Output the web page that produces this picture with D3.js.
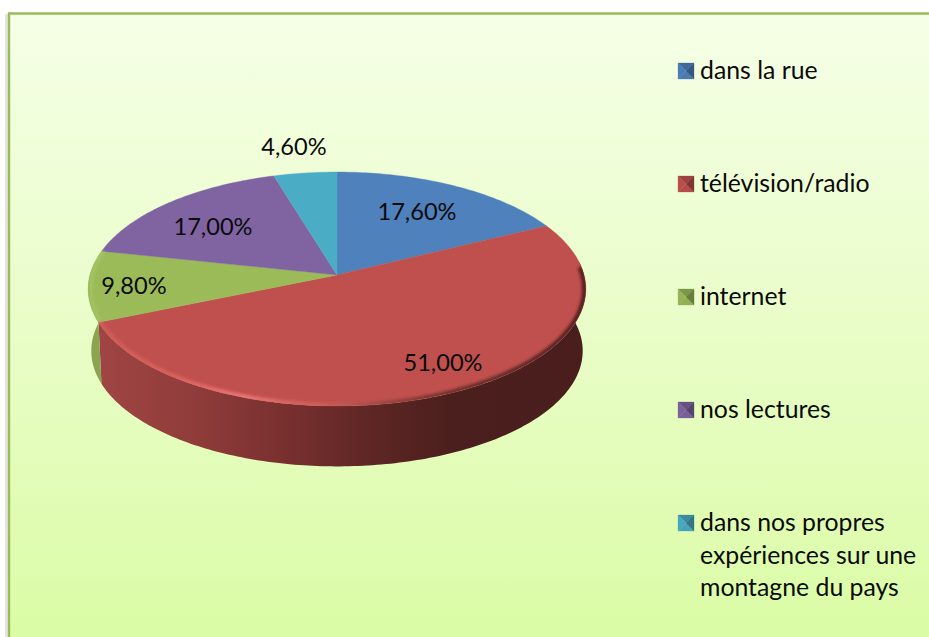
<!DOCTYPE html>
<html><head><meta charset="utf-8">
<script src="https://cdn.jsdelivr.net/npm/d3@7/dist/d3.min.js"></script>
<style>html,body{margin:0;padding:0;background:#fff}svg{display:block}text{font-family:Lato,"Noto Sans",sans-serif;fill:#0a0a0a}</style>
</head><body><svg id="c" width="929" height="637"></svg>
<script>
const categories = ["dans la rue","télévision/radio","internet","nos lectures","dans nos propres expériences sur une montagne du pays"];
const values = [17.6,51,9.8,17,4.6];
const valueLabels = ["17,60%","51,00%","9,80%","17,00%","4,60%"];
const colors = ["#4f81bd","#c0504d","#9bbb59","#8064a2","#4bacc6"];
const legendLines = [["dans la rue"],["télévision/radio"],["internet"],["nos lectures"],["dans nos propres","expériences sur une","montagne du pays"]];

const W=929,H=637;
const svg=d3.select("#c");
const defs=svg.append("defs");
const bg=defs.append("linearGradient").attr("id","bg").attr("x1",0).attr("y1",0).attr("x2",0).attr("y2",1);
bg.append("stop").attr("offset",0).attr("stop-color","#f5ffe6");
bg.append("stop").attr("offset",0.45).attr("stop-color","#eafdcb");
bg.append("stop").attr("offset",1).attr("stop-color","#dafca4");
const redWall=defs.append("linearGradient").attr("id","redWall").attr("gradientUnits","userSpaceOnUse")
  .attr("x1",98).attr("y1",0).attr("x2",586).attr("y2",0);
[[0,"#a04543"],[0.2,"#8f3c3a"],[0.4,"#762f2e"],[0.55,"#5f2725"],[0.72,"#4b1f1d"],[1,"#4a1e1c"]]
  .forEach(s=>redWall.append("stop").attr("offset",s[0]).attr("stop-color",s[1]));
const rim=defs.append("linearGradient").attr("id","rim").attr("gradientUnits","userSpaceOnUse")
  .attr("x1",98).attr("y1",0).attr("x2",586).attr("y2",0);
[[0,"#cf5c59"],[0.15,"#d9625f"],[0.3,"#f0787a"],[0.4,"#d96562"],[0.5,"#c05a57"],[0.6,"#96403e"],[0.72,"#6e2f2d"],[1,"#4a1e1c"]]
  .forEach(s=>rim.append("stop").attr("offset",s[0]).attr("stop-color",s[1]));
const blur=defs.append("filter").attr("id","soft").attr("x","-5%").attr("y","-5%").attr("width","110%").attr("height","110%");
blur.append("feGaussianBlur").attr("stdDeviation",1.6);
const top0=defs.append("clipPath").attr("id","topClip");

// panel
svg.append("rect").attr("x",5).attr("y",14).attr("width",3).attr("height",H).attr("fill","#d9d9d9").attr("opacity",.7);
svg.append("rect").attr("x",9).attr("y",14).attr("width",W).attr("height",H).attr("fill","url(#bg)");
svg.append("path").attr("d",d3.line()([[9,H],[9,13.5],[W,13.5]])).attr("fill","none").attr("stroke","#9bbb59").attr("stroke-width",2.4);

// perspective projection of the pie disc
const cx=337,cy=275,R=247,S=115.3,K=0.12,depth=62;
const project=(a,off=0)=>{
  const u=Math.sin(a),v=Math.cos(a),w=1+K*v,s=1-off/5000;
  return [cx+R*s*u/w, cy+off-S*s*v/w];
};
const samples=(a0,a1)=>{const n=Math.max(2,Math.ceil((a1-a0)*60));return d3.range(n+1).map(i=>a0+(a1-a0)*i/n);};
const line=d3.line();
const pie=d3.pie().sort(null).value(d=>d)(values);

const frontStart=Math.PI/2-0.12, frontEnd=3*Math.PI/2+0.12;
// side walls
const g=svg.append("g");
pie.forEach((p,i)=>{
  const a0=Math.max(p.startAngle,frontStart),a1=Math.min(p.endAngle,frontEnd);
  if(a1<=a0)return;
  const as=samples(a0,a1);
  const pts=as.map(a=>project(a)).concat(as.slice().reverse().map(a=>project(a,depth)));
  g.append("path").attr("d",line(pts)+"Z")
   .attr("fill",i===1?"url(#redWall)":d3.color(colors[i]).darker(.35));
});
// top surface
pie.forEach((p,i)=>{
  const pts=[[cx,cy]].concat(samples(p.startAngle,p.endAngle).map(a=>project(a)));
  g.append("path").attr("d",line(pts)+"Z").attr("fill",colors[i]).attr("stroke",colors[i]).attr("stroke-width",.4);
});
// bevelled rim of the front edge
const redP=pie[1];
const inner=(a,t)=>{const [x,y]=project(a);return [cx+(x-cx)*t,cy+(y-cy)*t];};
const rimA=samples(Math.max(redP.startAngle,frontStart+.05),redP.endAngle);
top0.append("path").attr("d",line(pie.flatMap(p=>samples(p.startAngle,p.endAngle)).map(a=>project(a)))+"Z");
const bevel=svg.append("g").attr("clip-path","url(#topClip)");
bevel.append("path").attr("d",line(rimA.map(a=>inner(a,.994)))).attr("fill","none")
  .attr("stroke","url(#rim)").attr("stroke-width",4.5).attr("filter","url(#soft)");
const gp=pie[2];
bevel.append("path").attr("d",line(samples(gp.startAngle,gp.endAngle).map(a=>inner(a,.99)))).attr("fill","none")
  .attr("stroke","#a9c667").attr("stroke-width",2.5).attr("filter","url(#soft)");

// value labels
const labelPos=[[417,212],[443,363],[134,286],[213,227],[294,147]];
valueLabels.forEach((t,i)=>{
  svg.append("text").attr("x",labelPos[i][0]).attr("y",labelPos[i][1]+8).attr("text-anchor","middle")
    .attr("font-size",23.6).text(t);
});

// legend
const legendY=[71,184,297,410,523];
const leg=svg.append("g");
categories.forEach((c,i)=>{
  const x=678,y=legendY[i]-8,s=16,col=d3.color(colors[i]);
  const mid=[x+s/2,y+s/2];
  const tri=(a,b,f)=>leg.append("path").attr("d",line([a,b,mid])+"Z").attr("fill",f).attr("stroke",f).attr("stroke-width",.3);
  tri([x,y],[x+s,y],col.darker(.6));
  tri([x,y+s],[x+s,y+s],col.darker(.15));
  tri([x,y],[x,y+s],col.darker(.1));
  tri([x+s,y],[x+s,y+s],col.darker(1.1));
  legendLines[i].forEach((t,j)=>{
    leg.append("text").attr("x",700).attr("y",legendY[i]+8+j*32.5).attr("font-size",24.8).text(t);
  });
});
</script></body></html>
